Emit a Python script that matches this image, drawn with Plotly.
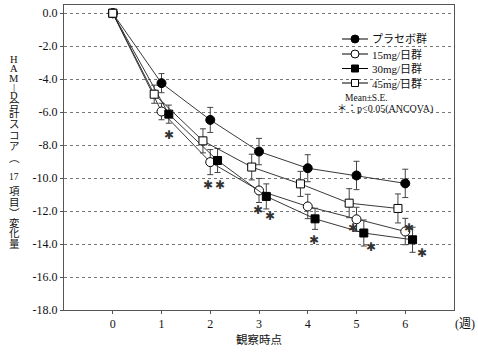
import plotly.graph_objects as go

weeks = [0, 1, 2, 3, 4, 5, 6]
placebo = [0, -4.24, -6.47, -8.39, -9.40, -9.84, -10.32]
mg15 = [0, -5.96, -9.03, -10.75, -11.72, -12.50, -13.24]
mg30 = [0, -6.12, -8.93, -11.11, -12.47, -13.33, -13.74]
mg45 = [0, -4.91, -7.74, -9.33, -10.35, -11.52, -11.84]
se_placebo = [None, 0.58, 0.76, 0.80, 0.82, 0.86, 0.86]
se_15 = [None, 0.50, 0.76, 0.73, 0.74, 0.73, 0.80]
se_30 = [None, 0.55, 0.73, 0.76, 0.64, 0.79, 0.76]
se_45 = [None, 0.55, 0.73, 0.78, 0.76, 0.88, 0.88]
labels = ["プラセボ群", "15mg/日群", "30mg/日群", "45mg/日群"]
y_ticks = [0, -2, -4, -6, -8, -10, -12, -14, -16, -18]
y_ticktext = ["0.0", "-2.0", "-4.0", "-6.0", "-8.0", "-10.0", "-12.0", "-14.0", "-16.0", "-18.0"]
star_x = [1.15, 1.95, 2.19, 2.98, 3.23, 4.13, 4.92, 5.29, 6.08, 6.35]
star_y = [-7.38, -10.4, -10.4, -11.92, -12.28, -13.78, -13.03, -14.18, -13.03, -14.55]
ytitle_chars = ["H", "A", "M", "|", "D", "合", "計", "ス", "コ", "ア", "︵", "17", "項", "目", "︶", "変", "化", "量"]
ytitle_px = [60, 68.5, 78, 87, 95, 103.5, 113.5, 124, 135, 146.5, 159, 177, 192, 203, 214, 223, 233.5, 244]

SERIF = "Liberation Serif, Noto Sans CJK JP"
L, R, T, B = 64, 24, 5, 44
W, H = 478, 354
PW, PH = W - L - R, H - T - B

def px2paper_x(px):
    return (px - L) / PW

def px2paper_y(py):
    return (H - B - py) / PH

offsets = [0.0, 0.0, 0.15, -0.15]
series = [placebo, mg15, mg30, mg45]
ses = [se_placebo, se_15, se_30, se_45]
shapes_kind = ["circle", "circle", "square", "square"]
fills = ["black", "white", "black", "white"]
sizes = [9, 9, 8, 8]

fig = go.Figure()
for i in range(4):
    xs = [w + (offsets[i] if w > 0 else 0) for w in weeks]
    fig.add_trace(go.Scatter(
        x=xs, y=series[i], mode="lines+markers", name=labels[i],
        line=dict(color="#222", width=0.9),
        marker=dict(symbol=shapes_kind[i], size=sizes[i], color=fills[i],
                    line=dict(color="black", width=1)),
        error_y=dict(type="data", array=ses[i], visible=True, color="#444", thickness=1, width=3),
        showlegend=False,
    ))

shapes = []
annotations = []
shapes.append(dict(type="rect", xref="paper", yref="paper", layer="between",
                   x0=px2paper_x(320), x1=px2paper_x(438), y0=px2paper_y(115), y1=px2paper_y(30),
                   fillcolor="white", line=dict(width=0)))
rows = [39, 54, 68.5, 83]
for i in range(4):
    yp = px2paper_y(rows[i])
    shapes.append(dict(type="line", xref="paper", yref="paper",
                       x0=px2paper_x(342), x1=px2paper_x(368), y0=yp, y1=yp,
                       line=dict(color="black", width=1)))
    typ = "circle" if shapes_kind[i] == "circle" else "rect"
    s = 4 if typ == "circle" else 3.5
    shapes.append(dict(type=typ, xref="paper", yref="paper", xsizemode="pixel", ysizemode="pixel",
                       xanchor=px2paper_x(355), yanchor=yp, x0=-s, x1=s, y0=-s, y1=s,
                       fillcolor=fills[i], line=dict(color="black", width=1)))
    annotations.append(dict(xref="paper", yref="paper", x=px2paper_x(370), y=yp,
                            xanchor="left", yanchor="middle", showarrow=False, text=labels[i],
                            font=dict(family=SERIF, size=11, color="#111")))
annotations.append(dict(xref="paper", yref="paper", x=px2paper_x(366), y=px2paper_y(98),
                        xanchor="center", yanchor="middle", showarrow=False, text="Mean±S.E.",
                        font=dict(family=SERIF, size=9.5, color="#111")))
annotations.append(dict(xref="paper", yref="paper", x=px2paper_x(385), y=px2paper_y(108.5),
                        xanchor="center", yanchor="middle", showarrow=False, text="＊：p<0.05(ANCOVA)",
                        font=dict(family=SERIF, size=10, color="#111")))
for sx, sy in zip(star_x, star_y):
    annotations.append(dict(x=sx, y=sy, xref="x", yref="y", showarrow=False, text="✱",
                            xanchor="center", yanchor="middle",
                            font=dict(family="DejaVu Sans", size=12, color="#333")))
for ch, py in zip(ytitle_chars, ytitle_px):
    annotations.append(dict(xref="paper", yref="paper", x=px2paper_x(14), y=px2paper_y(py),
                            xanchor="center", yanchor="middle", showarrow=False, text=ch,
                            font=dict(family=SERIF, size=10.5 if len(ch) == 1 else 9.5, color="#111")))
annotations.append(dict(xref="paper", yref="paper", x=px2paper_x(477), y=px2paper_y(324),
                        xanchor="right", yanchor="middle", showarrow=False, text="(週)",
                        font=dict(family=SERIF, size=12, color="#111")))

fig.update_layout(
    width=W, height=H, margin=dict(l=L, r=R, t=T, b=B),
    paper_bgcolor="white", plot_bgcolor="white",
    shapes=shapes, annotations=annotations,
    xaxis=dict(range=[-1, 7], tickvals=weeks, ticktext=[str(w) for w in weeks],
               showgrid=False, zeroline=False, showline=True, mirror=True,
               linecolor="#555", linewidth=1, ticks="outside", ticklen=3, tickcolor="#555",
               tickfont=dict(family=SERIF, size=12, color="#111"),
               title=dict(text="観察時点", font=dict(family="Noto Sans CJK JP", size=11.5, color="#111"), standoff=4)),
    yaxis=dict(range=[-18, 0.5], tickvals=y_ticks, ticktext=y_ticktext,
               showgrid=True, gridcolor="#777", griddash="dot", gridwidth=1,
               zeroline=False, showline=True, mirror=True,
               linecolor="#555", linewidth=1, ticks="outside", ticklen=3, tickcolor="#555",
               tickfont=dict(family=SERIF, size=12, color="#111")),
)

fig.write_html("out.html")
